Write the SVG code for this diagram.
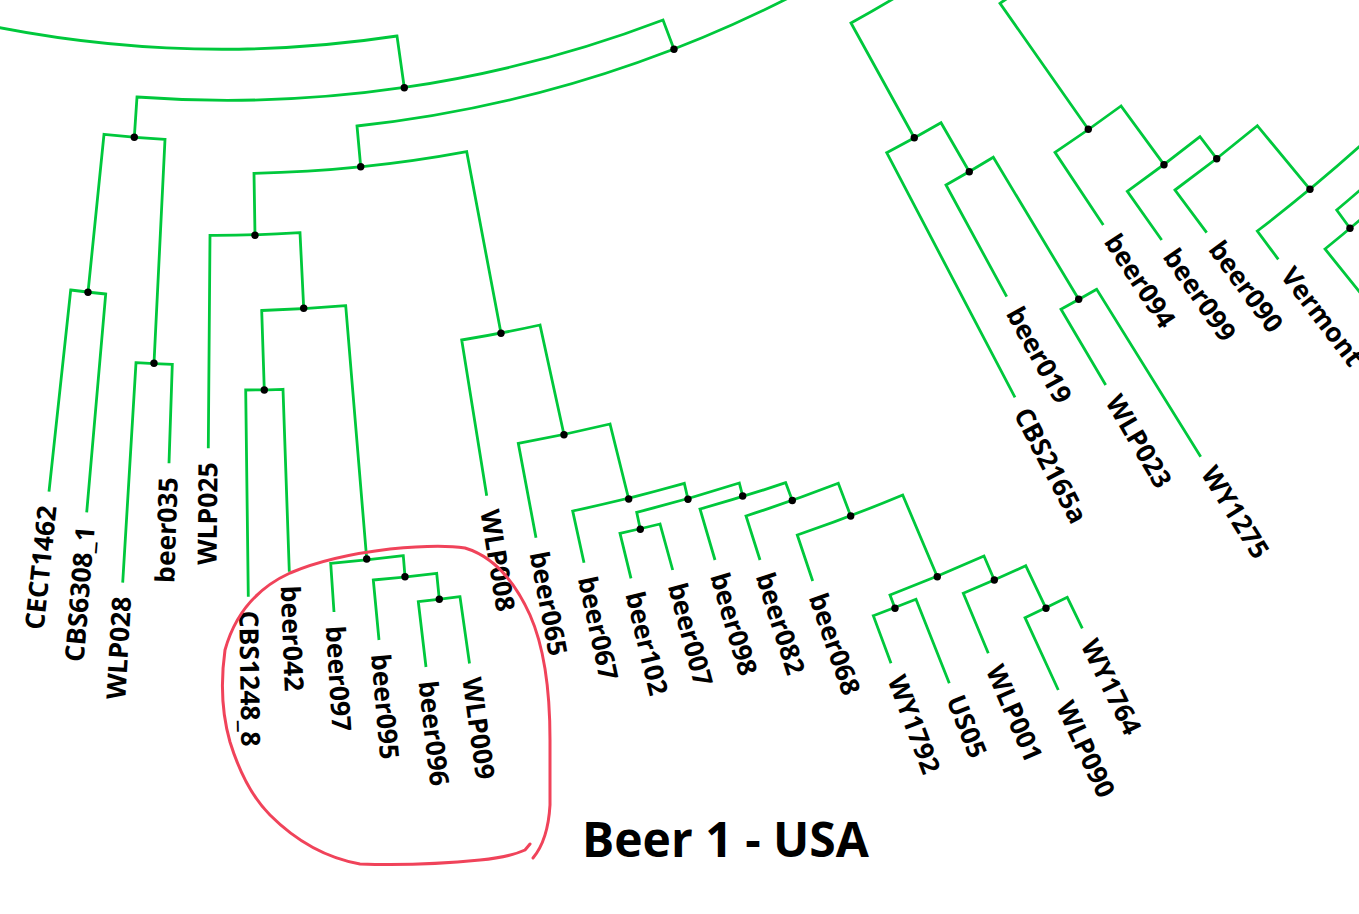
<svg xmlns="http://www.w3.org/2000/svg" width="1359" height="914" viewBox="0 0 1359 914">
<style>
.br{fill:none;stroke:#00c83c;stroke-width:2.8;stroke-linejoin:miter}
.dot{fill:#000}
.lbl{font-family:"Open Sans","Noto Sans","Liberation Sans",sans-serif;font-weight:700;font-size:26.5px;fill:#000}
.l{text-anchor:end}
.r{text-anchor:start}
.title{font-family:"Open Sans","Noto Sans","Liberation Sans",sans-serif;font-weight:700;font-size:48px;fill:#000}
.ring{fill:none;stroke:#f0435a;stroke-width:3;stroke-linecap:round;stroke-linejoin:round}
</style>
<rect width="1359" height="914" fill="#fff"/>
<g id="connectors" class="br">
<path d="M -5 26.8 A 1170 1170 0 0 0 397 36 L 404.3 87.7"/>
<path d="M 134.3 137.3 L 137 97 A 1222 1222 0 0 0 663 20 L 674 49.3"/>
<path d="M 360.7 166.7 L 357 126 A 1254 1254 0 0 0 800 -8"/>
<path d="M 255 235.3 L 254 173.3 A 1294.4 1294.4 0 0 0 466.7 151.7 L 501 333.3"/>
<path d="M 208.3 448.3 L 210 235.3 A 1356.4 1356.4 0 0 0 300 232.7 L 303.7 308.3"/>
<path d="M 264.3 390 L 261.7 310.5 A 1431.4 1431.4 0 0 0 345.7 305.7 L 366.7 559"/>
<path d="M 248.3 596.7 L 245.7 390 A 1511.6 1511.6 0 0 0 283 389.3 L 289.3 571.7"/>
<path d="M 334 612 L 330.7 563.3 A 1686.2 1686.2 0 0 0 403.3 555.7 L 405 576.7"/>
<path d="M 379 640 L 373.3 580 A 1707.8 1707.8 0 0 0 436.7 573.3 L 439.3 599.3"/>
<path d="M 426 667 L 418.3 601.7 A 1733.6 1733.6 0 0 0 460 596.7 L 469.5 663.5"/>
<path d="M 486.7 495.7 L 461.7 340 A 1480.5 1480.5 0 0 0 540 325 L 564 434.7"/>
<path d="M 536 537.7 L 518.3 443.3 A 1592.7 1592.7 0 0 0 610 424 L 628.7 499"/>
<path d="M 584 562.7 L 572.7 511 A 1670.2 1670.2 0 0 0 684.3 483.3 L 688 499.3"/>
<path d="M 640.3 529.3 L 636.7 512.3 A 1686 1686 0 0 0 739.3 483 L 742.7 496"/>
<path d="M 631 578.3 L 620 533.3 A 1702.5 1702.5 0 0 0 660 524 L 672.7 570"/>
<path d="M 715 560 L 700 509 A 1698.9 1698.9 0 0 0 785.7 482.7 L 792.3 500.5"/>
<path d="M 760 560 L 746 516 A 1718.9 1718.9 0 0 0 838.3 483.3 L 850.7 516"/>
<path d="M 812.7 581 L 797.3 535 A 1753.5 1753.5 0 0 0 902.7 495 L 937.3 576.7"/>
<path d="M 895 608.3 L 890 595 A 1842.2 1842.2 0 0 0 984 556 L 994.3 580"/>
<path d="M 891 663.3 L 873.3 615.7 A 1855.6 1855.6 0 0 0 916 599.3 L 949.3 683.3"/>
<path d="M 988.3 653.3 L 963.3 593.3 A 1868.1 1868.1 0 0 0 1025.7 565.7 L 1046 608.3"/>
<path d="M 1058.3 690 L 1025 617.7 A 1915.6 1915.6 0 0 0 1067.3 597.3 L 1082.3 628.3"/>
<path d="M 88 292.3 L 104 134.3 A 1261.3 1261.3 0 0 0 165 139.3 L 154 363.3"/>
<path d="M 49 491.7 L 70.7 290 A 1419.6 1419.6 0 0 0 105.7 294 L 86.7 512.3"/>
<path d="M 122.7 582.7 L 136 362.7 A 1485.9 1485.9 0 0 0 172.3 364.3 L 169 463.3"/>
<path d="M 900 -5.3 A 1305.5 1305.5 0 0 1 851 23 L 914.3 137.7"/>
<path d="M 1015 397.3 L 886.7 152.7 A 1436.5 1436.5 0 0 0 941 122.7 L 969.3 171.7"/>
<path d="M 1006.7 296.7 L 946 185 A 1493.2 1493.2 0 0 0 993.3 157.3 L 1078.7 299.3"/>
<path d="M 1105.7 385 L 1061 309.3 A 1658.7 1658.7 0 0 0 1096.7 289.3 L 1200.7 456.7"/>
<path d="M 1010 -3.5 A 1367 1367 0 0 1 1000 3.3 L 1088.3 129.3"/>
<path d="M 1103.3 225 L 1055 152.3 A 1521.1 1521.1 0 0 0 1121 106 L 1164 164.7"/>
<path d="M 1161.7 240 L 1127.3 191.3 A 1593.5 1593.5 0 0 0 1200 136.7 L 1216.7 158.7"/>
<path d="M 1206.7 232.7 L 1175 190 A 1620.8 1620.8 0 0 0 1257.3 125.7 L 1310 189.3"/>
<path d="M 1278.3 259.3 L 1257.3 231 A 1703 1703 0 0 0 1365 141.6"/>
<path d="M 1365 185.8 A 1736.1 1736.1 0 0 1 1336.7 210 L 1350 228.3"/>
<path d="M 1365 298.7 L 1325 249 A 1758.8 1758.8 0 0 0 1365 215.6"/>
</g>
<g id="internal-nodes" class="dot">
<g id="n1"><circle cx="404.3" cy="87.7" r="3.7"/></g>
<g id="n2"><circle cx="674" cy="49.3" r="3.7"/></g>
<g id="n3"><circle cx="360.7" cy="166.7" r="3.7"/></g>
<g id="n4"><circle cx="255" cy="235.3" r="3.7"/></g>
<g id="n5"><circle cx="501" cy="333.3" r="3.7"/></g>
<g id="n6"><circle cx="303.7" cy="308.3" r="3.7"/></g>
<g id="n7"><circle cx="264.3" cy="390" r="3.7"/></g>
<g id="n8"><circle cx="366.7" cy="559" r="3.7"/></g>
<g id="n9"><circle cx="405" cy="576.7" r="3.7"/></g>
<g id="n10"><circle cx="439.3" cy="599.3" r="3.7"/></g>
<g id="n11"><circle cx="564" cy="434.7" r="3.7"/></g>
<g id="n12"><circle cx="628.7" cy="499" r="3.7"/></g>
<g id="n13"><circle cx="688" cy="499.3" r="3.7"/></g>
<g id="n14"><circle cx="640.3" cy="529.3" r="3.7"/></g>
<g id="n15"><circle cx="742.7" cy="496" r="3.7"/></g>
<g id="n16"><circle cx="792.3" cy="500.5" r="3.7"/></g>
<g id="n17"><circle cx="850.7" cy="516" r="3.7"/></g>
<g id="n18"><circle cx="937.3" cy="576.7" r="3.7"/></g>
<g id="n19"><circle cx="895" cy="608.3" r="3.7"/></g>
<g id="n20"><circle cx="994.3" cy="580" r="3.7"/></g>
<g id="n21"><circle cx="1046" cy="608.3" r="3.7"/></g>
<g id="l1"><circle cx="134.3" cy="137.3" r="3.7"/></g>
<g id="l2"><circle cx="88" cy="292.3" r="3.7"/></g>
<g id="l3"><circle cx="154" cy="363.3" r="3.7"/></g>
<g id="r1"><circle cx="914.3" cy="137.7" r="3.7"/></g>
<g id="r2"><circle cx="969.3" cy="171.7" r="3.7"/></g>
<g id="r3"><circle cx="1078.7" cy="299.3" r="3.7"/></g>
<g id="q1"><circle cx="1088.3" cy="129.3" r="3.7"/></g>
<g id="q2"><circle cx="1164" cy="164.7" r="3.7"/></g>
<g id="q3"><circle cx="1216.7" cy="158.7" r="3.7"/></g>
<g id="q4"><circle cx="1310" cy="189.3" r="3.7"/></g>
<g id="e1"><circle cx="1350" cy="228.3" r="3.7"/></g>
</g>
<g id="leaves" class="lbl">
<g id="leaf-CECT1462"><text class="l" dy="0.35em" transform="translate(47.5 505.6) rotate(-83.88)">CECT1462</text></g>
<g id="leaf-CBS6308_1"><text class="l" dy="0.35em" transform="translate(85.5 526.3) rotate(-85.26)">CBS6308_1</text></g>
<g id="leaf-WLP028"><text class="l" dy="0.35em" transform="translate(121.9 596.7) rotate(-86.66)">WLP028</text></g>
<g id="leaf-beer035"><text class="l" dy="0.35em" transform="translate(168.5 477.3) rotate(-88.08)">beer035</text></g>
<g id="leaf-WLP025"><text class="l" dy="0.35em" transform="translate(208.2 462.3) rotate(-89.5)">WLP025</text></g>
<g id="leaf-CBS1248_8"><text class="r" dy="0.35em" transform="translate(248.5 610.7) rotate(89.12)">CBS1248_8</text></g>
<g id="leaf-beer042"><text class="r" dy="0.35em" transform="translate(289.9 585.7) rotate(87.72)">beer042</text></g>
<g id="leaf-beer097"><text class="r" dy="0.35em" transform="translate(334.9 626) rotate(86.3)">beer097</text></g>
<g id="leaf-beer095"><text class="r" dy="0.35em" transform="translate(380.2 654) rotate(84.9)">beer095</text></g>
<g id="leaf-beer096"><text class="r" dy="0.35em" transform="translate(427.6 680.9) rotate(83.49)">beer096</text></g>
<g id="leaf-WLP009"><text class="r" dy="0.35em" transform="translate(471.4 677.4) rotate(82.1)">WLP009</text></g>
<g id="leaf-WLP008"><text class="r" dy="0.35em" transform="translate(489.3 509.8) rotate(80.69)">WLP008</text></g>
<g id="leaf-beer065"><text class="r" dy="0.35em" transform="translate(538.6 551.8) rotate(79.28)">beer065</text></g>
<g id="leaf-beer067"><text class="r" dy="0.35em" transform="translate(586.9 576.7) rotate(77.87)">beer067</text></g>
<g id="leaf-beer102"><text class="r" dy="0.35em" transform="translate(634.3 592.1) rotate(76.47)">beer102</text></g>
<g id="leaf-beer007"><text class="r" dy="0.35em" transform="translate(676.6 583.5) rotate(75.07)">beer007</text></g>
<g id="leaf-beer098"><text class="r" dy="0.35em" transform="translate(718.9 573.4) rotate(73.66)">beer098</text></g>
<g id="leaf-beer082"><text class="r" dy="0.35em" transform="translate(764.3 573.3) rotate(72.25)">beer082</text></g>
<g id="leaf-beer068"><text class="r" dy="0.35em" transform="translate(817.3 594.2) rotate(70.86)">beer068</text></g>
<g id="leaf-WY1792"><text class="r" dy="0.35em" transform="translate(895.9 676.4) rotate(69.44)">WY1792</text></g>
<g id="leaf-US05"><text class="r" dy="0.35em" transform="translate(954.5 696.3) rotate(68.05)">US05</text></g>
<g id="leaf-WLP001"><text class="r" dy="0.35em" transform="translate(993.9 666.2) rotate(66.64)">WLP001</text></g>
<g id="leaf-WLP090"><text class="r" dy="0.35em" transform="translate(1064.2 702.7) rotate(65.21)">WLP090</text></g>
<g id="leaf-WY1764"><text class="r" dy="0.35em" transform="translate(1088.5 640.9) rotate(63.81)">WY1764</text></g>
<g id="leaf-CBS2165a"><text class="r" dy="0.35em" transform="translate(1021.5 409.7) rotate(62.43)">CBS2165a</text></g>
<g id="leaf-beer019"><text class="r" dy="0.35em" transform="translate(1013.5 309) rotate(61.03)">beer019</text></g>
<g id="leaf-WLP023"><text class="r" dy="0.35em" transform="translate(1112.8 397.1) rotate(59.6)">WLP023</text></g>
<g id="leaf-WY1275"><text class="r" dy="0.35em" transform="translate(1208.1 468.6) rotate(58.19)">WY1275</text></g>
<g id="leaf-beer094"><text class="r" dy="0.35em" transform="translate(1111 236.7) rotate(56.79)">beer094</text></g>
<g id="leaf-beer099"><text class="r" dy="0.35em" transform="translate(1169.7 251.5) rotate(55.38)">beer099</text></g>
<g id="leaf-beer090"><text class="r" dy="0.35em" transform="translate(1214.9 244) rotate(53.97)">beer090</text></g>
<g id="leaf-Vermont"><text class="r" dy="0.35em" transform="translate(1286.8 270.4) rotate(52.57)">Vermont</text></g>
</g>
<g id="highlight">
<path class="ring" d="M 533 858 Q 548 840 550 805 L 550 740 Q 550 660 530 615 Q 505 560 465 548 Q 440 544 390 549 Q 330 556 290 573 Q 240 596 225 650 Q 218 700 230 742 Q 245 790 270 815 Q 310 855 360 864 Q 420 866 480 860 Q 510 857 525 850 L 530 844"/>
</g>
<g id="title"><text class="title" x="582" y="857">Beer 1 - USA</text></g>
</svg>
